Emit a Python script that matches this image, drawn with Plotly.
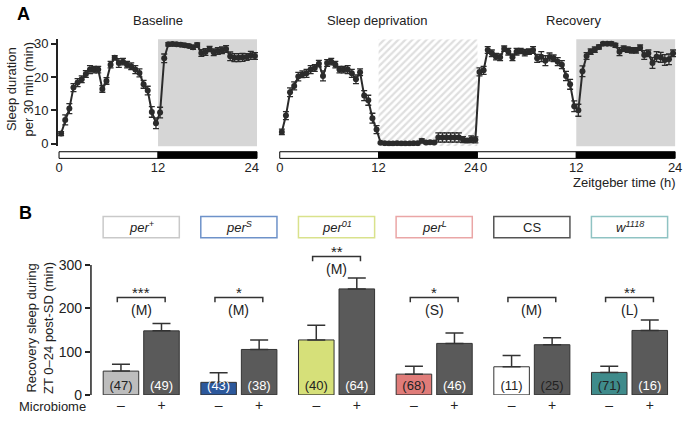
import plotly.graph_objects as go

# ---- panel A: sleep per 30 min bin (ZT 0.25 ... 23.75) ----
zt = [0.25 + 0.5 * k for k in range(48)]

base_sleep = [3.0, 7.1, 10.5, 16.8, 18.3, 19.3, 20.9, 22.2, 22.2, 22.2,
              16.4, 18.8, 23.7, 25.8, 24.2, 24.6, 23.7, 23.2, 22.2, 21.2,
              17.8, 15.9, 9.5, 6.1, 9.3, 25.6, 29.8, 29.9, 29.8, 29.7,
              29.5, 29.3, 28.9, 29.6, 27.2, 27.5, 28.4, 27.4, 27.8, 28.0,
              28.4, 26.2, 25.8, 25.8, 25.9, 26.0, 26.5, 26.3]
base_err = [0.6, 1.5, 1.5, 1.2, 1.2, 1.0, 1.0, 1.2, 1.0, 1.0,
            1.0, 1.0, 1.0, 0.6, 1.3, 1.0, 1.0, 1.0, 1.2, 1.2,
            1.2, 1.3, 1.6, 1.6, 1.6, 1.3, 0.5, 0.5, 0.5, 0.5,
            0.5, 0.5, 0.6, 0.6, 1.0, 1.0, 0.8, 1.0, 1.0, 1.0,
            1.0, 1.3, 1.2, 1.2, 1.2, 1.0, 1.2, 1.0]

sd_sleep = [3.5, 8.4, 15.4, 17.3, 20.1, 20.8, 21.1, 22.2, 22.7, 24.0,
            20.3, 24.2, 24.6, 23.7, 22.2, 22.2, 22.2, 21.1, 19.3, 21.4,
            14.4, 13.0, 7.6, 4.2, 0.2, 0.1, 0.0, 0.0, 0.1, 0.0,
            0.0, 0.0, 0.1, 0.1, 0.8, 0.3, 0.4, 0.3, 1.8, 1.8,
            1.8, 1.8, 1.8, 1.8, 1.2, 0.9, 1.3, 1.1]
sd_err = [0.8, 1.2, 1.3, 1.2, 1.3, 1.0, 1.2, 1.2, 1.0, 1.0,
          1.5, 1.0, 1.0, 1.0, 1.0, 1.0, 1.2, 1.2, 1.3, 1.0,
          1.5, 1.5, 1.5, 1.2, 0.2, 0.1, 0.1, 0.1, 0.1, 0.1,
          0.1, 0.1, 0.1, 0.1, 0.6, 0.3, 0.4, 0.3, 1.4, 1.4,
          1.4, 1.4, 1.4, 1.4, 0.9, 0.6, 1.0, 0.9]

rec_sleep = [21.5, 22.0, 28.1, 27.1, 26.1, 25.9, 28.5, 27.6, 25.9, 27.6,
             27.8, 27.3, 27.6, 28.1, 25.6, 26.1, 24.9, 26.0, 25.6, 24.6,
             23.7, 20.3, 17.8, 11.2, 10.0, 21.7, 26.3, 27.6, 28.2, 29.0,
             30.0, 30.0, 30.0, 29.5, 27.6, 28.5, 28.2, 28.0, 28.0, 28.8,
             26.6, 27.1, 24.2, 26.1, 25.9, 25.1, 25.3, 27.1]
rec_err = [1.2, 1.2, 1.0, 1.0, 1.0, 1.0, 0.8, 1.0, 1.0, 1.0,
           0.8, 1.0, 0.8, 1.0, 1.2, 1.5, 1.5, 1.2, 1.0, 1.2,
           1.2, 1.4, 1.5, 1.6, 1.8, 1.6, 1.0, 0.8, 0.8, 0.6,
           0.4, 0.4, 0.5, 0.6, 1.2, 0.8, 0.8, 0.8, 0.8, 0.8,
           1.3, 1.0, 1.6, 1.5, 1.5, 1.6, 1.6, 1.0]

# ---- panel B: recovery sleep ----
genotypes = ["<i>per<sup>+</sup></i>", "<i>per<sup>S</sup></i>", "<i>per<sup>01</sup></i>",
             "<i>per<sup>L</sup></i>", "CS", "<i>w<sup>1118</sup></i>"]
box_colors = ["#c9c9c9", "#6e92c9", "#d9e28c", "#eaa6a6", "#555555", "#8fc3c3"]
minus_colors = ["#bdbdbd", "#2c589b", "#d6e079", "#e07c79", "#ffffff", "#3f8b8b"]
plus_color = "#5a5a5a"
minus_vals = [55, 29, 127, 48, 65, 52]
minus_err = [16, 22, 34, 18, 26, 14]
plus_vals = [148, 105, 245, 119, 116, 149]
plus_err = [17, 22, 25, 24, 16, 24]
n_minus = [47, 43, 40, 68, 11, 71]
n_plus = [49, 38, 64, 46, 25, 16]
n_minus_txt = ["#222222", "#ffffff", "#222222", "#222222", "#222222", "#222222"]
n_plus_txt = ["#ffffff", "#ffffff", "#ffffff", "#ffffff", "#222222", "#ffffff"]
stars = ["***", "*", "**", "*", "", "**"]
period = ["(M)", "(M)", "(M)", "(S)", "(M)", "(L)"]
bracket_y = [225, 225, 320, 225, 225, 225]

W, H = 692, 425
def pxx(p): return p / W
def pxy(p): return 1 - p / H

FONT = "Liberation Sans, Arial, sans-serif"
INK = "#222222"

fig = go.Figure()

# hatched sleep-deprivation block (bar with pattern)
fig.add_trace(go.Bar(x=[18], y=[32.1], base=[-0.8], width=[12], xaxis="x2", yaxis="y2",
                     marker=dict(color="white", line_width=0,
                                 pattern=dict(shape="/", fgcolor="#bfbfbf", bgcolor="white",
                                              size=5, solidity=0.45)),
                     hoverinfo="skip"))

line_style = dict(color="#2b2b2b", width=2)
mk = dict(color="#2b2b2b", size=6)
eb = lambda e: dict(type="data", array=e, color="#2b2b2b", thickness=1.3, width=3)

fig.add_trace(go.Scatter(x=zt, y=base_sleep, error_y=eb(base_err), mode="lines+markers",
                         line=line_style, marker=mk, xaxis="x", yaxis="y"))
x_sdrec = zt + [24 + t for t in zt]
fig.add_trace(go.Scatter(x=x_sdrec, y=sd_sleep + rec_sleep, error_y=eb(sd_err + rec_err),
                         mode="lines+markers", line=line_style, marker=mk, xaxis="x2", yaxis="y2"))

# panel B bars
off, bw = 0.2075, 0.364
xm = [i - off for i in range(6)]
xp = [i + off for i in range(6)]
fig.add_trace(go.Bar(x=xm, y=minus_vals, width=bw, xaxis="x3", yaxis="y3", cliponaxis=False,
                     marker=dict(color=minus_colors, line=dict(color="#333333", width=1)),
                     error_y=dict(type="data", symmetric=False, array=minus_err,
                                  arrayminus=[0] * 6, color="#333333", thickness=1.5, width=9)))
fig.add_trace(go.Bar(x=xp, y=plus_vals, width=bw, xaxis="x3", yaxis="y3", cliponaxis=False,
                     marker=dict(color=plus_color, line=dict(color="#333333", width=1)),
                     error_y=dict(type="data", symmetric=False, array=plus_err,
                                  arrayminus=[0] * 6, color="#333333", thickness=1.5, width=9)))
fig.add_trace(go.Scatter(x=xm + xp, y=[18] * 12, mode="text", xaxis="x3", yaxis="y3",
                         text=[f"({n})" for n in n_minus + n_plus],
                         textfont=dict(family=FONT, size=13, color=n_minus_txt + n_plus_txt),
                         cliponaxis=False))

shapes = []
anns = []

# panel A backgrounds and light/dark bars
shapes.append(dict(type="rect", xref="x", yref="y domain", x0=12, x1=24, y0=0, y1=1,
                   fillcolor="#d6d6d6", line_width=0, layer="below"))
shapes.append(dict(type="rect", xref="x2", yref="y2 domain", x0=36, x1=48, y0=0, y1=1,
                   fillcolor="#d6d6d6", line_width=0, layer="below"))
ld_y0, ld_y1 = pxy(159.5), pxy(152.7)
for xr, segs in [("x", [(0, 12, "white"), (12, 24, "black")]),
                 ("x2", [(0, 12, "white"), (12, 24, "black"), (24, 36, "white"), (36, 48, "black")])]:
    for a, b, c in segs:
        shapes.append(dict(type="rect", xref=xr, yref="paper", x0=a, x1=b, y0=ld_y0, y1=ld_y1,
                           fillcolor=c, line=dict(color="black", width=1)))

# panel B y-axis line, brackets, genotype boxes
shapes.append(dict(type="line", xref="x3 domain", yref="y3", x0=0, x1=0, y0=0, y1=300,
                   line=dict(color=INK, width=1.5)))
for i in range(6):
    by = bracket_y[i]
    a, b = i - 0.245, i + 0.245
    shapes.append(dict(type="path", xref="x3", yref="y3",
                       path=f"M {a},{by - 11} L {a},{by} L {b},{by} L {b},{by - 11}",
                       line=dict(color="#333333", width=1.5)))
    if stars[i]:
        anns.append(dict(x=i, y=by + 11, xref="x3", yref="y3", text=stars[i], showarrow=False,
                         font=dict(family=FONT, size=15, color=INK), yanchor="middle"))
    anns.append(dict(x=i, y=by - 28, xref="x3", yref="y3", text=period[i], showarrow=False,
                     font=dict(family=FONT, size=14, color=INK), yanchor="middle"))
    shapes.append(dict(type="rect", xref="x3", yref="paper", x0=i - 0.39, x1=i + 0.39,
                       y0=pxy(241), y1=pxy(219.3), line=dict(color=box_colors[i], width=1.5),
                       fillcolor="white"))
    anns.append(dict(x=i, y=pxy(230), xref="x3", yref="paper", text=genotypes[i], showarrow=False,
                     font=dict(family=FONT, size=13, color=INK), yanchor="middle"))

# titles / labels
txt = dict(family=FONT, size=13, color=INK)
def note(x, y, text, xref="paper", xanchor="center", **kw):
    return dict(x=x, y=y, xref=xref, yref="paper", text=text, showarrow=False,
                xanchor=xanchor, yanchor="middle", font=kw.pop("font", txt), **kw)

anns += [
    note(pxx(13), pxy(11), "<b>A</b>", xanchor="left", font=dict(family=FONT, size=18, color="black")),
    note(pxx(15), pxy(216), "<b>B</b>", xanchor="left", font=dict(family=FONT, size=18, color="black")),
    note(12, pxy(18), "Baseline", xref="x"),
    note(11.8, pxy(18), "Sleep deprivation", xref="x2"),
    note(35.7, pxy(18), "Recovery", xref="x2"),
    note(pxx(684), pxy(184), "Zeitgeber time (h)", xanchor="right"),
    note(pxx(18), pxy(88), "Sleep duration<br>per 30 min (min)", textangle=-90),
    note(pxx(39), pxy(334), "Recovery sleep during<br>ZT 0–24 post-SD (min)", textangle=-90),
    note(pxx(15), pxy(414), "Microbiome", xanchor="left"),
]

ya_dom = [pxy(147.0), pxy(37.3)]
xa_common = dict(showgrid=False, zeroline=False, showline=False, ticks="", tickangle=0,
                 tickfont=dict(family=FONT, size=13, color=INK), ticklabelstandoff=12)

fig.update_layout(
    width=W, height=H, margin=dict(l=0, r=0, t=0, b=0),
    paper_bgcolor="white", plot_bgcolor="rgba(0,0,0,0)", showlegend=False,
    barmode="overlay", font=dict(family=FONT, color=INK),
    xaxis=dict(domain=[pxx(56.45), pxx(259.25)], range=[-0.15, 24.15], anchor="y",
               tickvals=[0, 12, 23.35], ticktext=["0", "12", "24"], **xa_common),
    yaxis=dict(domain=ya_dom, range=[-0.8, 31.3], anchor="x", tickvals=[0, 10, 20, 30],
               showgrid=False, zeroline=False, showline=True, linecolor=INK, linewidth=1.5,
               ticks="outside", ticklen=5, tickwidth=1.5, tickcolor=INK,
               tickfont=dict(family=FONT, size=13, color=INK)),
    xaxis2=dict(domain=[pxx(279.75), pxx(682.25)], range=[-0.15, 48.15], anchor="y2",
                tickvals=[0, 12, 23.25, 24.75, 36, 48], ticktext=["0", "12", "24", "0", "12", "24"],
                **xa_common),
    yaxis2=dict(domain=ya_dom, range=[-0.8, 31.3], anchor="x2", visible=False),
    xaxis3=dict(domain=[pxx(90), pxx(680)], range=[-0.5147, 5.457], anchor="y3",
                tickvals=xm + xp, ticktext=["–"] * 6 + ["+"] * 6, showgrid=False, tickangle=0,
                zeroline=False, showline=False, ticks="",
                tickfont=dict(family=FONT, size=14, color=INK)),
    yaxis3=dict(domain=[pxy(402.3), pxy(251.3)], range=[0, 340], anchor="x3",
                tickvals=[0, 100, 200, 300], showgrid=False, zeroline=False, showline=False,
                ticks="outside", ticklen=5, tickwidth=1.5, tickcolor=INK,
                tickfont=dict(family=FONT, size=14, color=INK)),
    shapes=shapes, annotations=anns,
)

fig.write_html("out.html", config={"displayModeBar": False},
               post_script="document.body.style.margin='0';document.body.style.overflow='hidden';")
